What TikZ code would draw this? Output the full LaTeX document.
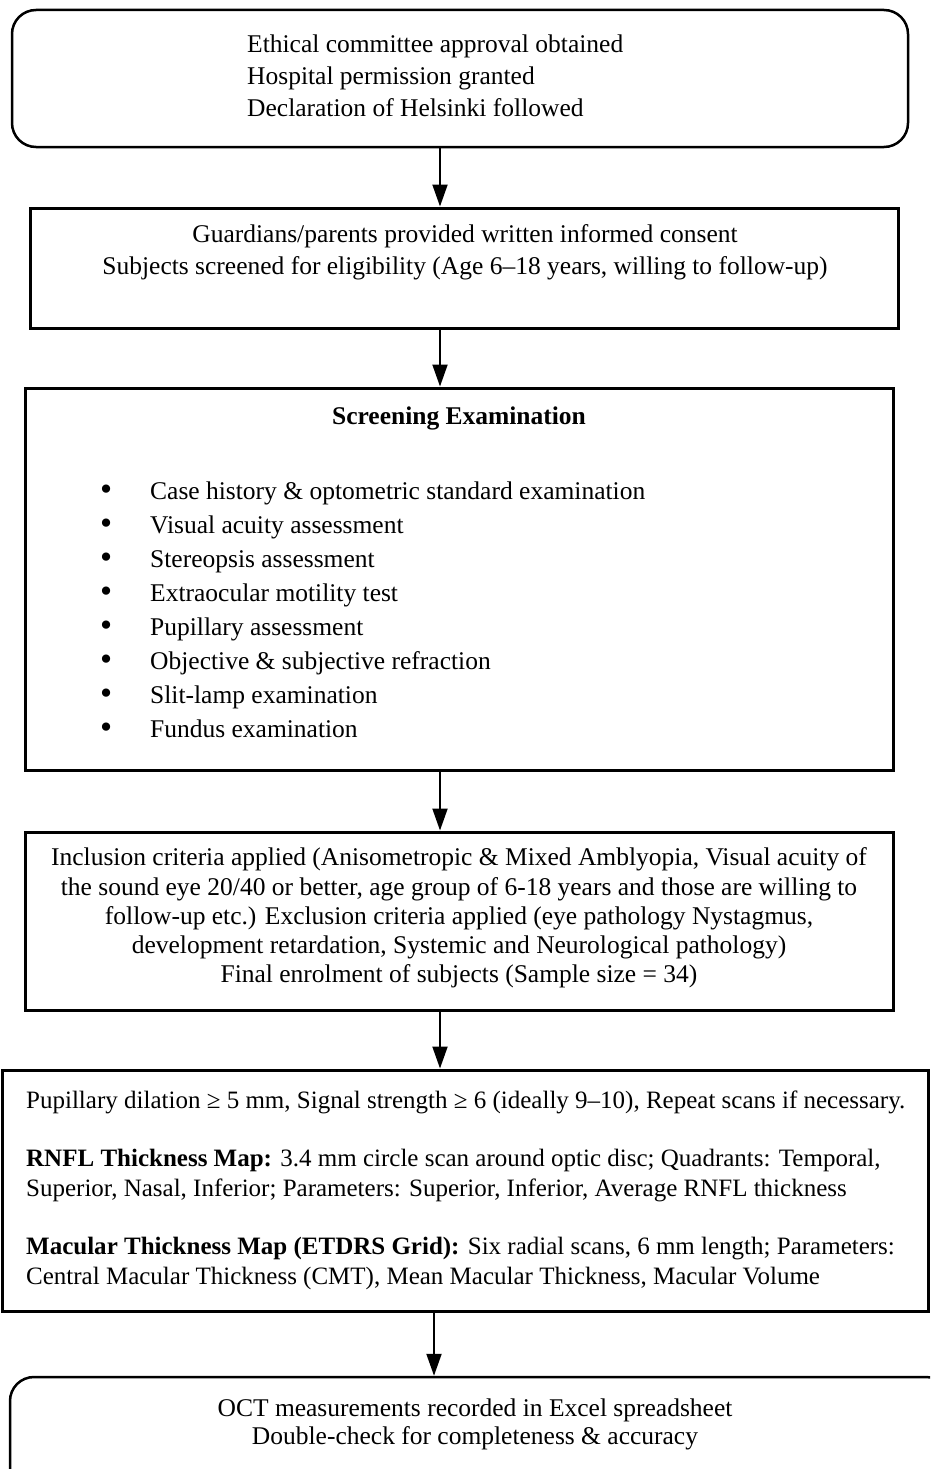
\documentclass[tikz,border=0pt]{standalone}
\usepackage{fontspec}
\usepackage{graphicx}
\setmainfont{Liberation Serif}
\usetikzlibrary{arrows.meta}

\newcommand{\listdot}{\makebox[49pt][l]{\hspace{-1pt}\raisebox{-1pt}{\scalebox{1.35}{\textbullet}}}}

\begin{document}
\begin{tikzpicture}[x=1pt, y=-1pt,
    box/.style = {draw, line width=3pt, inner sep=0pt},
    rbox/.style = {draw, line width=2.5pt, rounded corners=24pt, inner sep=0pt},
    txt/.style = {inner sep=0pt, font=\fontsize{25.5}{32}\selectfont},
    arr/.style = {line width=2pt, -{Triangle[width=15pt, length=22pt]}}]
    \clip (0,0) rectangle (930,1469);

    \coordinate (spine) at (440,0);
    \coordinate (spine low) at (434,0);

    \node[rbox, minimum width=896pt, minimum height=137pt] (ethics) at (460,78.5) {};
    \node[txt, anchor=west, align=left] (ethics txt) at (247,76) {Ethical committee approval obtained \\ Hospital permission granted \\ Declaration of Helsinki followed};

    \node[box, minimum width=868pt, minimum height=120pt] (consent) at (464,268) {};
    \node[txt, align=center] (consent txt) at (465,252) {Guardians/parents provided written informed consent \\ Subjects screened for eligibility (Age 6–18 years, willing to follow-up)};

    \node[box, minimum width=868pt, minimum height=382pt] (screen) at (459,579) {};
    \node[txt, font=\fontsize{25.5}{32}\bfseries] (screen title) at (459,418) {Screening Examination};
    \node[txt, anchor=west, align=left, font=\fontsize{25.5}{34}\selectfont] (screen list) at (101,610) {%
        \listdot Case history \& optometric standard examination \\
        \listdot Visual acuity assessment \\
        \listdot Stereopsis assessment \\
        \listdot Extraocular motility test \\
        \listdot Pupillary assessment \\
        \listdot Objective \& subjective refraction \\
        \listdot Slit-lamp examination \\
        \listdot Fundus examination};

    \node[box, minimum width=868pt, minimum height=178pt] (criteria) at (459,921) {};
    \node[txt, align=center, font=\fontsize{25.5}{29.25}\selectfont] (criteria txt) at (459,918) {Inclusion criteria applied (Anisometropic \& Mixed Amblyopia, Visual acuity of \\ the sound eye 20/40 or better, age group of 6-18 years and those are willing to \\ follow-up etc.) Exclusion criteria applied (eye pathology Nystagmus, \\ development retardation, Systemic and Neurological pathology) \\ Final enrolment of subjects (Sample size = 34)};

    \node[box, minimum width=926pt, minimum height=241pt] (oct) at (465,1190.5) {};
    \node[txt, anchor=west, align=left, font=\fontsize{25}{30}\selectfont] (oct txt) at (26,1190) {Pupillary dilation ≥ 5 mm, Signal strength ≥ 6 (ideally 9–10), Repeat scans if necessary. \\[28pt]
        \textbf{RNFL Thickness Map:} 3.4 mm circle scan around optic disc; Quadrants: Temporal, \\ Superior, Nasal, Inferior; Parameters: Superior, Inferior, Average RNFL thickness \\[28pt]
        \textbf{Macular Thickness Map (ETDRS Grid):} Six radial scans, 6 mm length; Parameters: \\ Central Macular Thickness (CMT), Mean Macular Thickness, Macular Volume};

    \node[rbox, minimum width=940pt, minimum height=143pt] (record) at (480,1448.5) {};
    \node[txt, align=center, font=\fontsize{25.5}{28}\selectfont] (record txt) at (475,1424) {OCT measurements recorded in Excel spreadsheet \\ Double-check for completeness \& accuracy};

    \draw[arr] (ethics.south -| spine) -- (consent.north -| spine);
    \draw[arr] (consent.south -| spine) -- (screen.north -| spine);
    \draw[arr] (screen.south -| spine) -- (criteria.north -| spine);
    \draw[arr] (criteria.south -| spine) -- (oct.north -| spine);
    \draw[arr] (oct.south -| spine low) -- (record.north -| spine low);
\end{tikzpicture}
\end{document}
